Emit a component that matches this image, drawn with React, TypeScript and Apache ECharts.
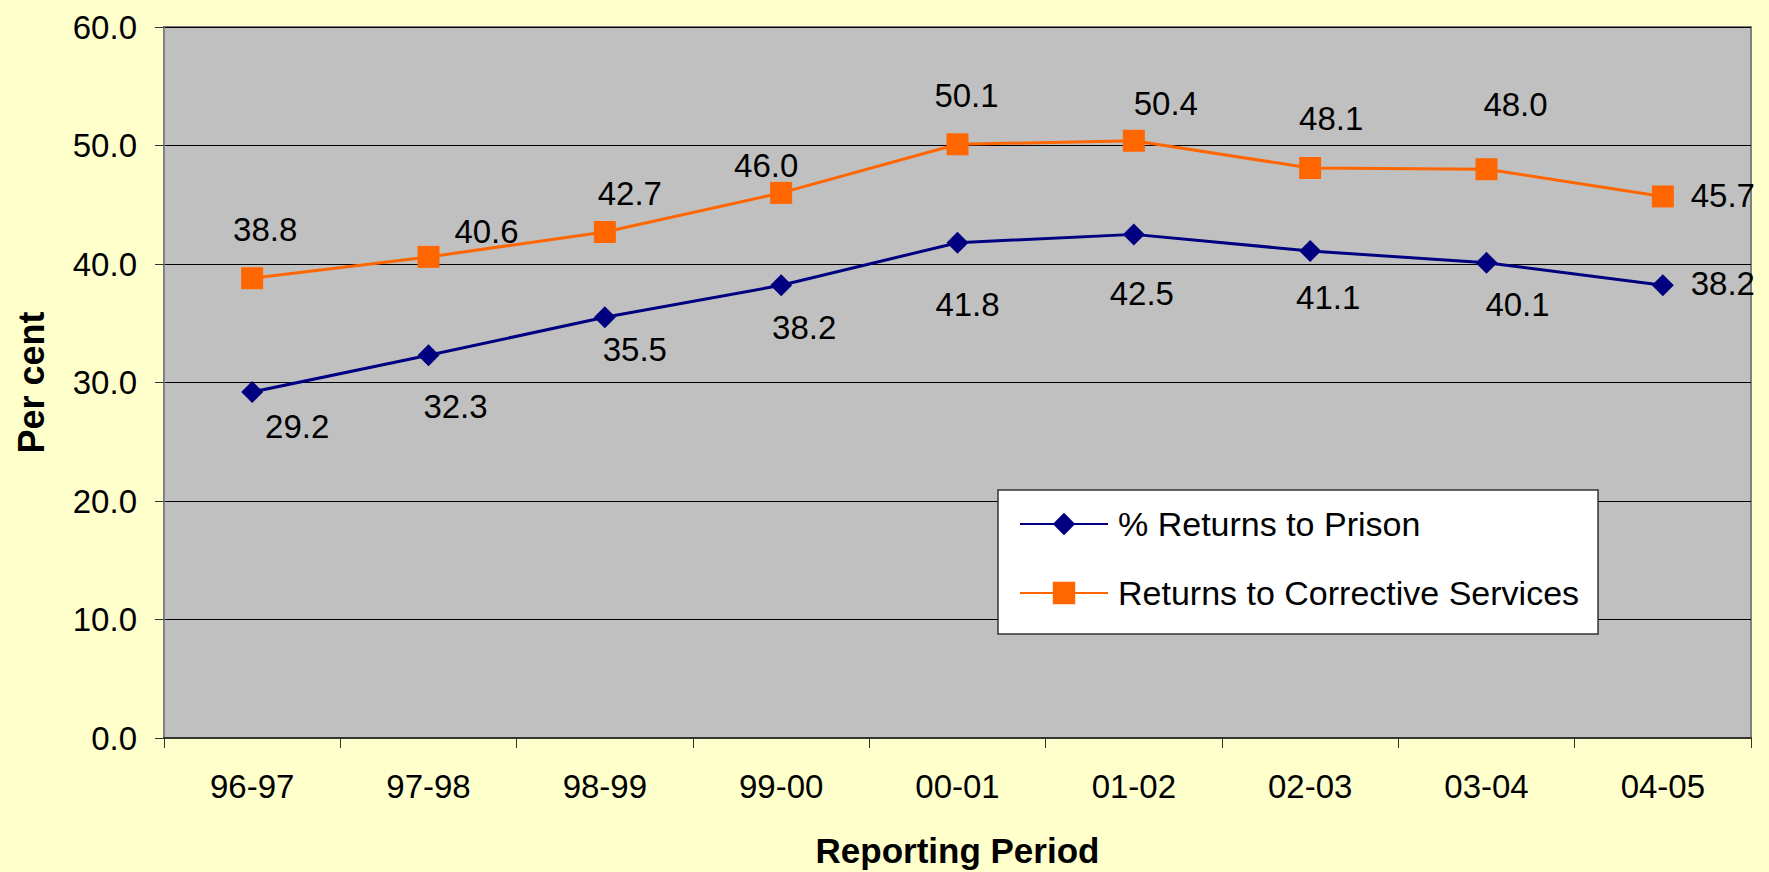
import React, { useEffect, useRef } from "react";
import * as echarts from "echarts";

const categories = ["96-97", "97-98", "98-99", "99-00", "00-01", "01-02", "02-03", "03-04", "04-05"];
const prisonReturns = [29.2, 32.3, 35.5, 38.2, 41.8, 42.5, 41.1, 40.1, 38.2];
const correctiveReturns = [38.8, 40.6, 42.7, 46.0, 50.1, 50.4, 48.1, 48.0, 45.7];
const seriesNames = ["% Returns to Prison", "Returns to Corrective Services"];
const yTicks = { min: 0, max: 60, interval: 10 };

// label placement (layout only)
const prisonLabelOffsets = [[45, 35], [27, 51], [30, 32], [23, 42], [10, 62], [8, 59], [18, 47], [31, 42], [60, -2]];
const correctiveLabelOffsets = [[13, -49], [58, -25], [25, -39], [-15, -27], [9, -49], [32, -37], [21, -50], [29, -65], [60, -1]];

const FONT = "'Liberation Sans', Arial, sans-serif";

export default function App() {
  const ref = useRef<HTMLDivElement>(null);
  useEffect(() => {
    document.body.style.margin = "0";
    document.body.style.overflow = "hidden";
    const chart = echarts.init(ref.current!, null, { renderer: "svg" });
    const mk = (vals: number[], offs: number[][]) =>
      vals.map((v, i) => ({ value: v, label: { offset: offs[i] } }));
    chart.setOption({
      animation: false,
      backgroundColor: "#FFFFCC",
      textStyle: { fontFamily: FONT },
      grid: {
        left: 164, top: 27, right: 18, bottom: 134,
        containLabel: false,
        outerBoundsMode: "none",
        show: true, backgroundColor: "#C0C0C0", borderColor: "#808080", borderWidth: 2,
      },
      legend: {
        orient: "vertical",
        left: 998, top: 490,
        backgroundColor: "#FFFFFF",
        borderColor: "#333333", borderWidth: 1.5,
        padding: [17, 19, 24, 21],
        itemWidth: 88, itemHeight: 28, itemGap: 35,
        textStyle: { fontSize: 34, color: "#000", fontFamily: FONT, padding: [0, 0, 0, 5] },
        data: seriesNames,
      },
      xAxis: {
        type: "category",
        data: categories,
        boundaryGap: true,
        name: "Reporting Period",
        nameLocation: "middle",
        nameGap: 95,
        nameTextStyle: { fontSize: 35, fontWeight: "bold", color: "#000", fontFamily: FONT },
        axisLine: { lineStyle: { color: "#333333", width: 2 } },
        axisTick: { show: true, interval: 0, alignWithLabel: false, length: 10, lineStyle: { color: "#333333", width: 1 } },
        axisLabel: { fontSize: 33, color: "#000", margin: 32, interval: 0, fontFamily: FONT },
        splitLine: { show: false },
      },
      yAxis: {
        type: "value",
        min: yTicks.min, max: yTicks.max, interval: yTicks.interval,
        name: "Per cent",
        nameLocation: "middle",
        nameGap: 115,
        nameTextStyle: { fontSize: 36, fontWeight: "bold", color: "#000", fontFamily: FONT },
        axisLine: { show: true, lineStyle: { color: "#808080", width: 2 } },
        axisTick: { show: true, length: 9, lineStyle: { color: "#333333", width: 1 } },
        axisLabel: { fontSize: 33, color: "#000", margin: 27, fontFamily: FONT, formatter: (v: number) => v.toFixed(1) },
        splitLine: { show: true, lineStyle: { color: "#000000", width: 1 } },
      },
      series: [
        {
          name: seriesNames[0],
          type: "line",
          data: mk(prisonReturns, prisonLabelOffsets),
          symbol: "diamond",
          symbolSize: 22,
          itemStyle: { color: "#000080" },
          lineStyle: { color: "#000080", width: 3 },
          label: { show: true, position: "inside", fontSize: 33, color: "#000", fontFamily: FONT, formatter: (p: any) => p.value.toFixed(1) },
          z: 3,
        },
        {
          name: seriesNames[1],
          type: "line",
          data: mk(correctiveReturns, correctiveLabelOffsets),
          symbol: "rect",
          symbolSize: 22,
          itemStyle: { color: "#FF6600" },
          lineStyle: { color: "#FF6600", width: 3 },
          label: { show: true, position: "inside", fontSize: 33, color: "#000", fontFamily: FONT, formatter: (p: any) => p.value.toFixed(1) },
          z: 3,
        },
      ],
    });
    return () => chart.dispose();
  }, []);
  return <div ref={ref} style={{ width: 1769, height: 872 }} />;
}
